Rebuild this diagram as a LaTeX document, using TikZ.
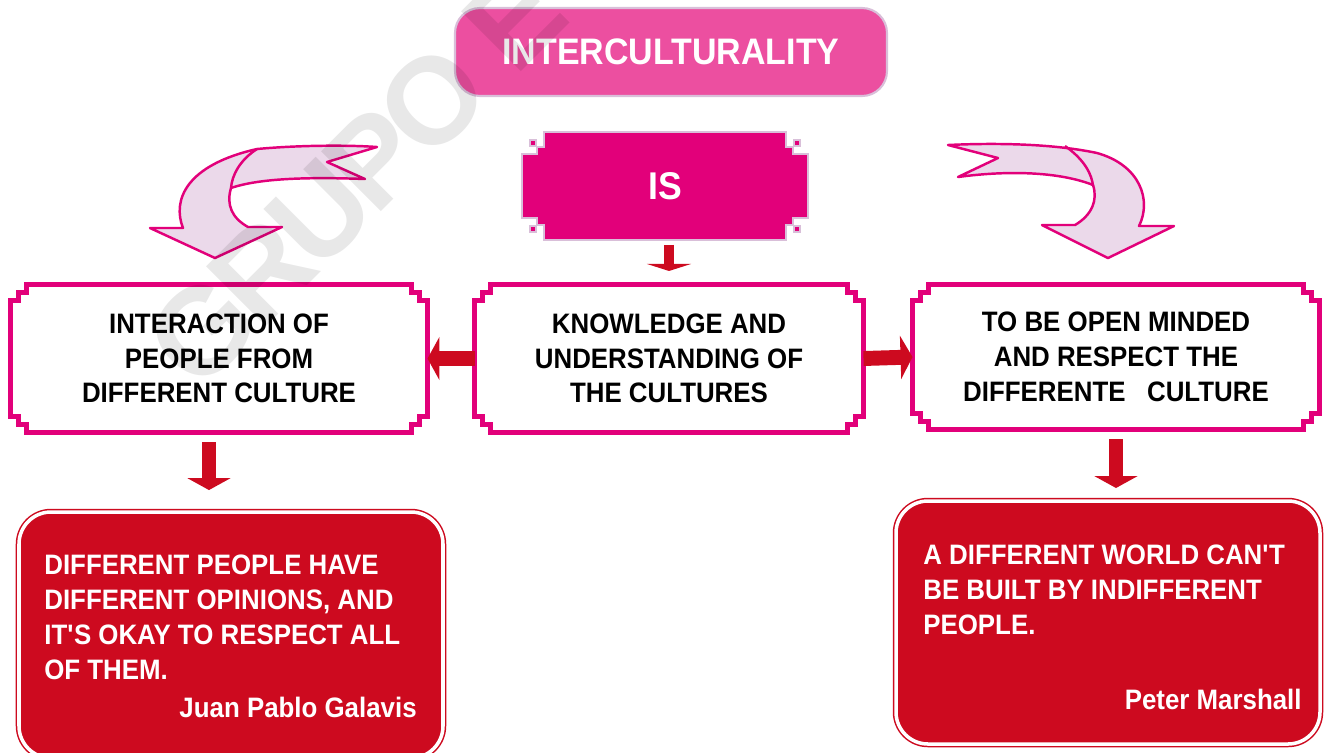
\documentclass[tikz,border=0pt]{standalone}
\usepackage{fontspec}
\setmainfont{Liberation Sans}[FakeStretch=0.92]
\newfontfamily\wmfont{Liberation Sans}[LetterSpace=-6]
\usetikzlibrary{arrows.meta,calc,backgrounds}
\definecolor{magen}{HTML}{E2007A}
\definecolor{tpink}{HTML}{EC4FA0}
\definecolor{lilac}{HTML}{D9BFD9}
\definecolor{afill}{HTML}{EBD9EA}
\definecolor{qred}{HTML}{CD0A1F}
\newcommand{\pxu}{0.02cm}
\newcommand{\notchframe}[4]{%
  \draw[#4] ($(#1.north west)+(#2,0)$) -- ($(#1.north east)+(-#2,0)$) -- ++(0,#3) -- ++(#2-#3,0) -- ++(0,#2-#3) -- ++(#3,0)
    -- ($(#1.south east)+(0,-#2)$) -- ++(-#3,0) -- ++(0,#2-#3) -- ++(-#2+#3,0) -- ++(0,#3)
    -- ($(#1.south west)+(#2,0)$) -- ++(0,-#3) -- ++(-#2+#3,0) -- ++(0,-#2+#3) -- ++(-#3,0)
    -- ($(#1.north west)+(0,#2)$) -- ++(#3,0) -- ++(0,-#2+#3) -- ++(#2-#3,0) -- cycle;}
\begin{document}
\begin{tikzpicture}[x=0.02cm,y=-0.02cm,
    notched/.style={draw=none,inner sep=0pt,outer sep=0pt},
    boxtext/.style={font=\bfseries\fontsize{16}{19.8}\selectfont,align=center},
    redarrow/.style={qred,line width=8.5pt,-{Triangle[width=24.4pt,length=6.8pt]}},
    curly/.style={draw=magen,fill=afill,line width=1.4pt,line join=round},
    quote/.style={fill=qred,draw=qred,line width=0.85pt,double=white,double distance=2pt,rounded corners=0.64cm,inner sep=0pt,outer sep=0pt},
    qtext/.style={text=white,font=\bfseries\fontsize{16}{19.8}\selectfont,align=left,inner sep=0pt}]
\useasboundingbox (0,0) rectangle (1325,752);
\node[fill=tpink,draw=lilac,line width=1.2pt,rounded corners=0.5cm,minimum width=432*\pxu,minimum height=88*\pxu,text=white,font=\bfseries\fontsize{21}{25}\selectfont] (title) at (671,52) {INTERCULTURALITY};
\node[notched,minimum width=286*\pxu,minimum height=108*\pxu,text=white,font=\bfseries\fontsize{22}{26}\selectfont] (is) at (665,186) {IS};
\begin{scope}[on background layer]
\notchframe{is}{22}{15}{fill=magen,draw=lilac,line width=1.4pt}
\end{scope}
\foreach \a/\sx/\sy in {north west/1/1,north east/-1/1,south east/-1/-1,south west/1/-1}
    \draw[fill=magen,draw=lilac,line width=0.9pt] ($(is.\a)+(8*\sx,8*\sy)$) rectangle ++(6*\sx,6*\sy);
\node[notched,boxtext,minimum width=417*\pxu,minimum height=148*\pxu] (left) at (219,358.5) {INTERACTION OF\\PEOPLE FROM\\DIFFERENT CULTURE};
\node[notched,boxtext,minimum width=389*\pxu,minimum height=148*\pxu] (mid) at (669,358.5) {KNOWLEDGE AND\\UNDERSTANDING OF\\THE CULTURES};
\node[notched,boxtext,minimum width=407*\pxu,minimum height=145*\pxu] (right) at (1116,357) {TO BE OPEN MINDED\\AND RESPECT THE\\DIFFERENTE\ \ \ CULTURE};
\notchframe{left}{16}{8}{draw=magen,line width=2.8pt}
\notchframe{mid}{16}{8}{draw=magen,line width=2.8pt}
\notchframe{right}{16}{8}{draw=magen,line width=2.8pt}
\node[quote,minimum width=424*\pxu,minimum height=246*\pxu] (qleft) at (231,635) {};
\node[quote,minimum width=424*\pxu,minimum height=243*\pxu] (qright) at (1108,622.5) {};
\node[qtext,anchor=north west] (ql) at (44,555) {DIFFERENT PEOPLE HAVE\\DIFFERENT OPINIONS, AND\\IT\textquotesingle S OKAY TO RESPECT ALL\\OF THEM.};
\node[qtext,anchor=base east] (al) at (417,717) {Juan Pablo Galavis};
\node[qtext,anchor=north west] (qr) at (923,545) {A DIFFERENT WORLD CAN\textquotesingle T\\BE BUILT BY INDIFFERENT\\PEOPLE.};
\node[qtext,anchor=base east] (ar) at (1302,709) {Peter Marshall};
\coordinate (ldrop) at ([xshift=-5.7pt]left.south);
\draw[redarrow,line width=6.2pt,-{Triangle[width=25pt,length=4pt]},shorten <=2.8pt,shorten >=7.7pt] (is.south -| mid.north) -- (mid.north);
\draw[redarrow] (mid.west) -- (left.east);
\draw[redarrow] (mid.east) -- (right.west);
\draw[redarrow,shorten <=5.4pt,shorten >=12.5pt] (ldrop) -- (ldrop |- qleft.north);
\draw[redarrow,shorten <=5.4pt,shorten >=7.4pt] (right.south) -- (right.south |- qright.north);
\draw[curly] (377,147) -- (327,162) -- (365,179) .. controls (310,177) and (260,178) .. (231,188) .. controls (226,205) and (232,218) .. (248,227) -- (282,227) -- (215,258) -- (150,228) -- (183,228) .. controls (172,200) and (186,165) .. (257,149) .. controls (300,145) and (350,145) .. (377,147) -- cycle;
\draw[curly,fill=none] (257,149) .. controls (240,160) and (232,175) .. (231,188);
\draw[curly] (948,145) -- (998,158) -- (958,177) .. controls (1010,170) and (1060,172) .. (1093,185) .. controls (1098,200) and (1092,215) .. (1075,225) -- (1042,225) -- (1108,258) -- (1174,226) -- (1139,226) .. controls (1152,200) and (1140,165) .. (1097,153) .. controls (1050,143) and (990,143) .. (948,145) -- cycle;
\draw[curly,fill=none] (1065,146) .. controls (1085,160) and (1092,175) .. (1093,186);
\node[rotate=45,anchor=base west,inner sep=0pt,text=black,text opacity=0.09,font=\wmfont\bfseries\fontsize{70}{70}\selectfont] (mark) at (198,395) {GRUPO E};
\end{tikzpicture}
\end{document}
